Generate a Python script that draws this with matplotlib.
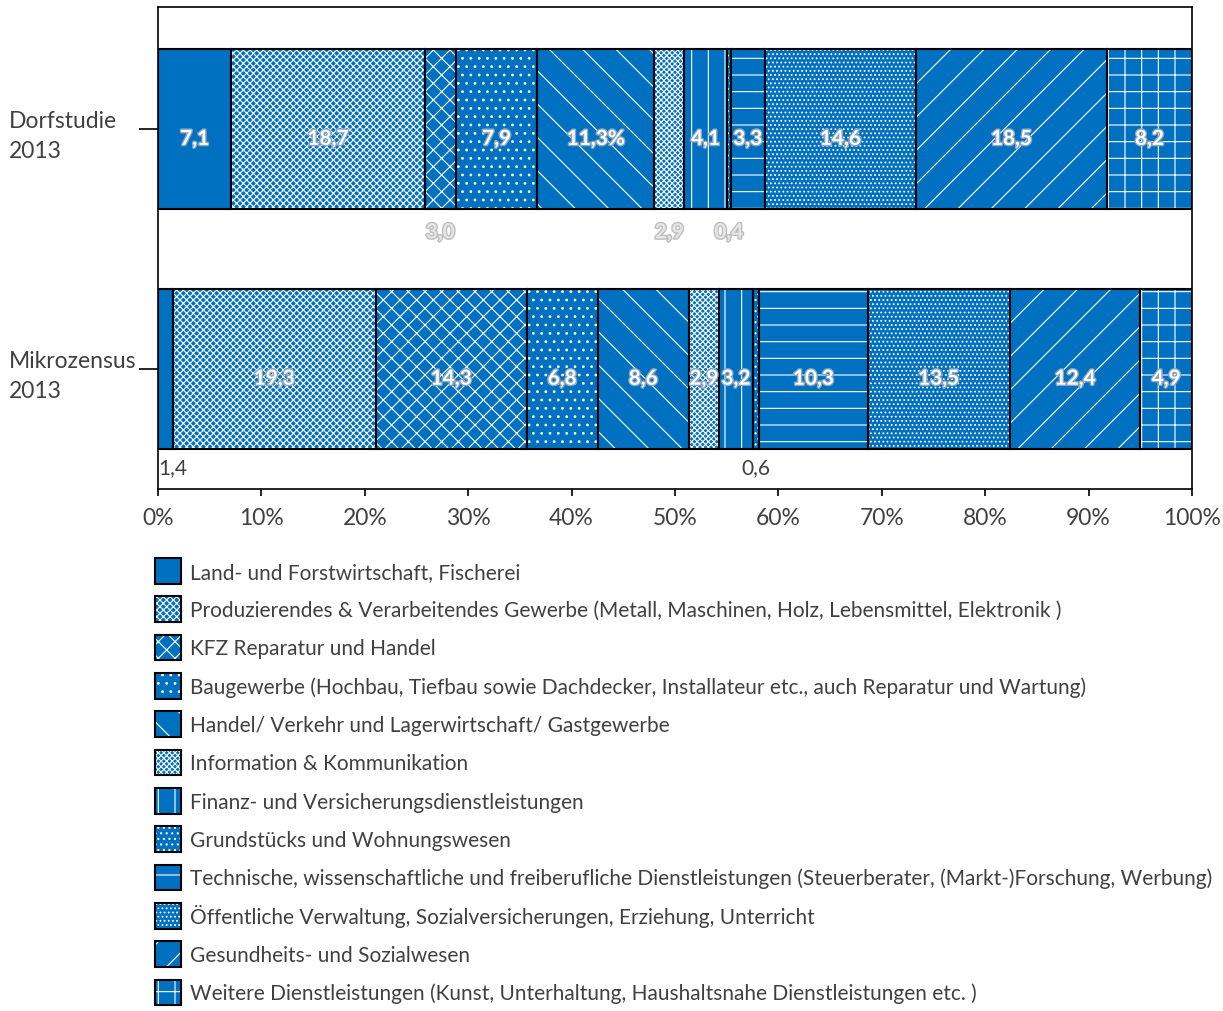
import numpy as np
import matplotlib
matplotlib.use("Agg")
import matplotlib.pyplot as plt
import matplotlib.patheffects as pe
from matplotlib.patches import Patch
from matplotlib.legend_handler import HandlerTuple

plt.rcParams['font.family'] = ['Lato', 'DejaVu Sans']
plt.rcParams['hatch.linewidth'] = 0.8

# data
categories = ["Dorfstudie\n2013", "Mikrozensus\n2013"]
sectors = [
    "Land- und Forstwirtschaft, Fischerei",
    "Produzierendes & Verarbeitendes Gewerbe (Metall, Maschinen, Holz, Lebensmittel, Elektronik )",
    "KFZ Reparatur und Handel",
    "Baugewerbe (Hochbau, Tiefbau sowie Dachdecker, Installateur etc., auch Reparatur und Wartung)",
    "Handel/ Verkehr und Lagerwirtschaft/ Gastgewerbe",
    "Information & Kommunikation",
    "Finanz- und Versicherungsdienstleistungen",
    "Grundstücks und Wohnungswesen",
    "Technische, wissenschaftliche und freiberufliche Dienstleistungen (Steuerberater, (Markt-)Forschung, Werbung)",
    "Öffentliche Verwaltung, Sozialversicherungen, Erziehung, Unterricht",
    "Gesundheits- und Sozialwesen",
    "Weitere Dienstleistungen (Kunst, Unterhaltung, Haushaltsnahe Dienstleistungen etc. )",
]
dorf = [7.1, 18.7, 3.0, 7.9, 11.3, 2.9, 4.1, 0.4, 3.3, 14.6, 18.5, 8.2]
mikro = [1.4, 19.3, 14.3, 6.8, 8.6, 2.9, 3.2, 0.6, 10.3, 13.5, 12.4, 4.9]
dorf_labels = ["7,1", "18,7", "3,0", "7,9", "11,3%", "2,9", "4,1", "0,4", "3,3", "14,6", "18,5", "8,2"]
mikro_labels = ["1,4", "19,3", "14,3", "6,8", "8,6", "2,9", "3,2", "0,6", "10,3", "13,5", "12,4", "4,9"]
dorf_outside = [2, 5, 7]
mikro_outside = [0, 7]
xticks = np.arange(0, 101, 10)

hatches = ['', 'xxxxx', 'xx', '..', '\\', 'xxxxxx', '|', '...', '-', '....', '/', '+']
blue = '#0070C0'
txt = '#404040'

fig = plt.figure(figsize=(12.23, 10.12), dpi=100)
ax = fig.add_axes([158/1223, 1-490/1012, 1034/1223, 482/1012])

data = np.array([dorf, mikro])
pct = data / data.sum(axis=1, keepdims=True) * 100
left = np.zeros(2)
ypos = np.arange(2)
h = 0.667
for i in range(len(sectors)):
    ax.barh(ypos, pct[:, i], left=left, height=h, color=blue, edgecolor='white',
            linewidth=0, hatch=hatches[i])
    ax.barh(ypos, pct[:, i], left=left, height=h, fill=False, edgecolor='black',
            linewidth=1.5)
    left += pct[:, i]

# labels
starts = np.cumsum(pct, axis=1) - pct
centers = starts + pct / 2
inner_fx = [pe.withStroke(linewidth=2, foreground='#8aa6bf')]
for r, (labels, outside) in enumerate([(dorf_labels, dorf_outside), (mikro_labels, mikro_outside)]):
    for i, lab in enumerate(labels):
        if i in outside:
            if r == 0:
                ax.text(centers[r, i], r + 0.43, lab, ha='center', va='center', fontsize=15,
                        fontweight='bold', color='#e6e6e6',
                        path_effects=[pe.withStroke(linewidth=2, foreground='#bdbdbd')])
            else:
                x = 0 if i == 0 else centers[r, i]
                ax.text(x, r + 0.41, lab, ha='left' if i == 0 else 'center', va='center',
                        fontsize=15, color=txt)
        else:
            ax.text(centers[r, i], r + 0.04, lab, ha='center', va='center', fontsize=15,
                    fontweight='bold', color='white', path_effects=inner_fx)

ax.set_xlim(0, 100)
ax.set_ylim(1.5, -0.51)
ax.set_xticks(xticks)
ax.set_xticklabels([f"{t}%" for t in xticks], fontsize=16.5, color=txt)
ax.set_yticks(ypos)
ax.set_yticklabels(categories, fontsize=16.5, color=txt, ha='left', linespacing=1.5)
ax.tick_params(axis='y', length=14, width=1.2, pad=93.5)
ax.tick_params(axis='x', length=5, width=1.2, pad=8)
for s in ax.spines.values():
    s.set_linewidth(1.2)

handles = []
for i in range(len(sectors)):
    hp = Patch(facecolor=blue, edgecolor='white', linewidth=0, hatch=hatches[i])
    op = Patch(fill=False, edgecolor='black', linewidth=1.5)
    handles.append((hp, op))
fig.legend(handles, sectors, loc='upper left', bbox_to_anchor=(155/1223, 1-559/1012),
           frameon=False, fontsize=15, handlelength=1.25, handleheight=1.53,
           labelspacing=0.6, handletextpad=0.43, borderpad=0, borderaxespad=0,
           labelcolor=txt, handler_map={tuple: HandlerTuple(ndivide=1)})

fig.savefig("out.png", dpi=100)
